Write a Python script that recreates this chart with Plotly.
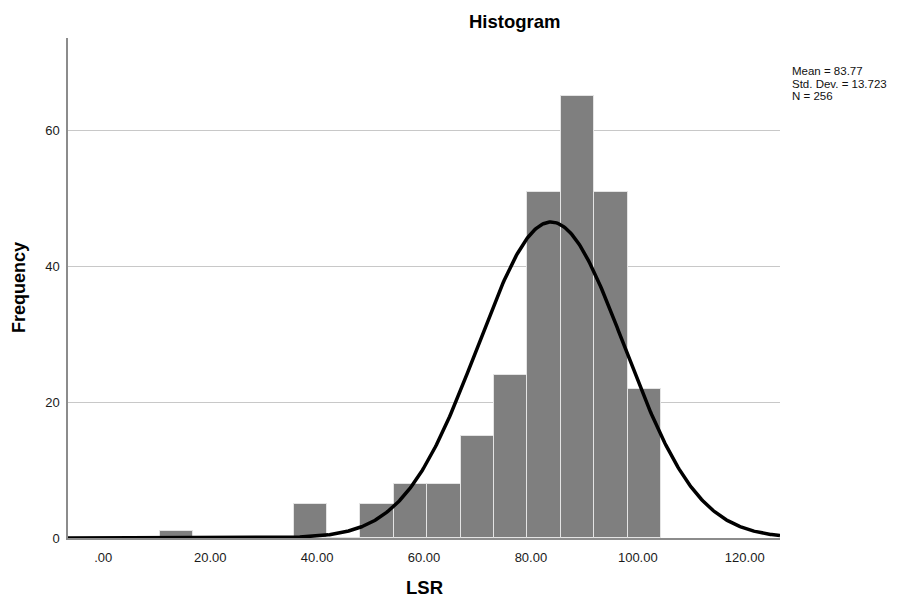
import numpy as np
import plotly.graph_objects as go

# Histogram of LSR scores (bin width 6.25, first bin starting at 10.6)
bin_start = 10.6
bin_width = 6.25
counts = [1, 0, 0, 0, 5, 0, 5, 8, 8, 15, 24, 51, 65, 51, 22]

# Summary statistics shown beside the plot
mean_val = 83.77
std_dev = 13.723
n_obs = 256

x_ticks = [0, 20, 40, 60, 80, 100, 120]
x_tick_text = [".00", "20.00", "40.00", "60.00", "80.00", "100.00", "120.00"]
y_ticks = [0, 20, 40, 60]

x_range = [-6.6, 126.6]
y_range = [0, 73.6]

centers = bin_start + bin_width * (np.arange(len(counts)) + 0.5)

# Normal curve scaled to counts: N * bin width * pdf
xs = np.linspace(x_range[0], x_range[1], 600)
pdf = np.exp(-0.5 * ((xs - mean_val) / std_dev) ** 2) / (std_dev * np.sqrt(2 * np.pi))
curve = n_obs * bin_width * pdf

font_family = "Arial, Liberation Sans, sans-serif"

fig = go.Figure()
fig.add_trace(go.Bar(
    x=centers, y=counts, width=bin_width,
    marker=dict(color="#7f7f7f", line=dict(color="#e4e4e4", width=1)),
    hoverinfo="x+y", showlegend=False,
))
fig.add_trace(go.Scatter(
    x=xs, y=curve, mode="lines",
    line=dict(color="black", width=3.5),
    showlegend=False, hoverinfo="skip",
))

fig.update_layout(
    width=901, height=598,
    margin=dict(l=68, r=121, t=38, b=60),
    paper_bgcolor="white", plot_bgcolor="white",
    font=dict(family=font_family, color="#222222", size=13),
    bargap=0,
    xaxis=dict(
        range=x_range, tickvals=x_ticks, ticktext=x_tick_text,
        showgrid=False, zeroline=False,
        showline=True, linecolor="#8c8c8c", linewidth=1.5,
        ticks="outside", ticklen=7, tickcolor="rgba(0,0,0,0)",
        tickfont=dict(size=13, color="#1a1a1a"),
    ),
    yaxis=dict(
        range=y_range, tickvals=y_ticks,
        showgrid=True, gridcolor="#c8c8c8", gridwidth=1,
        zeroline=False,
        showline=True, linecolor="#8c8c8c", linewidth=1.5,
        ticks="outside", ticklen=4, tickcolor="rgba(0,0,0,0)",
        tickfont=dict(size=13, color="#1a1a1a"),
    ),
)

plot_l, plot_r, plot_t, plot_b = 68, 780, 38, 538


def px_x(px):
    return (px - plot_l) / (plot_r - plot_l)


def px_y(py):
    return (plot_b - py) / (plot_b - plot_t)


annotations = [
    dict(text="<b>Histogram</b>", x=px_x(515), y=px_y(22),
         font=dict(size=18.5, color="black")),
    dict(text="<b>LSR</b>", x=px_x(424), y=px_y(587),
         font=dict(size=18.5, color="black")),
    dict(text="<b>Frequency</b>", x=px_x(19), y=px_y(288), textangle=-90,
         font=dict(size=18, color="black")),
]
stat_lines = [
    f"Mean = {mean_val:.2f}",
    f"Std. Dev. = {std_dev:.3f}",
    f"N = {n_obs}",
]
for i, line in enumerate(stat_lines):
    annotations.append(dict(
        text=line, x=px_x(790), y=px_y(71.5 + 12.3 * i), xanchor="left",
        font=dict(size=11.5, color="#111111"),
    ))

for a in annotations:
    a.setdefault("xanchor", "center")
    a.update(xref="paper", yref="paper", yanchor="middle", showarrow=False)

fig.update_layout(annotations=annotations)

fig.write_html("out.html")
